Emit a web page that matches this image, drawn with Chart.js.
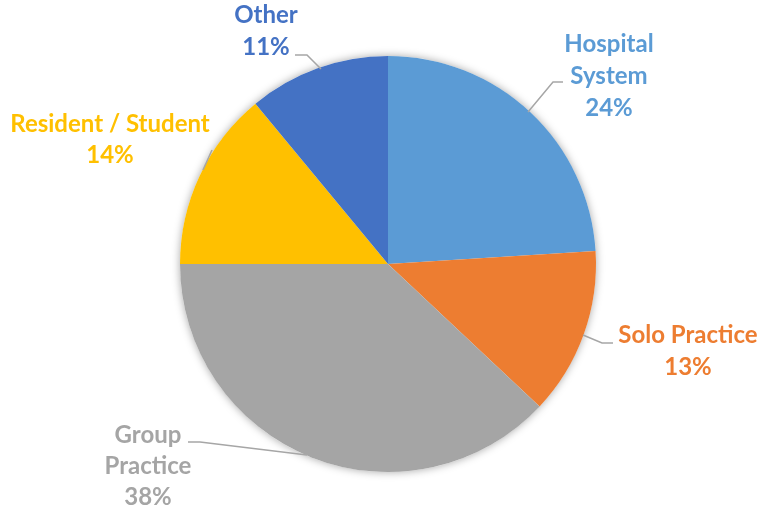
<!DOCTYPE html>
<html>
<head>
<meta charset="utf-8">
<script src="https://cdn.jsdelivr.net/npm/chart.js@4"></script>
<style>
  html, body { margin: 0; padding: 0; background: #fff; }
  #wrap { width: 761px; height: 512px; }
</style>
</head>
<body>
<div id="wrap"><canvas id="practicePie" width="761" height="512"></canvas></div>
<script>
// practice setting breakdown, clockwise from 12 o'clock
var categories = ['Hospital System', 'Solo Practice', 'Group Practice', 'Resident / Student', 'Other'];
var shares = [24, 13, 38, 14, 11];
var sliceColors = ['#5B9BD5', '#ED7D31', '#A5A5A5', '#FFC000', '#4472C4'];

// label lines as they wrap in the picture
var labelLines = [
    ['Hospital', 'System'],
    ['Solo Practice'],
    ['Group', 'Practice'],
    ['Resident / Student'],
    ['Other']
];

// where each label sits (x offset, first baseline offset) and its leader line,
// all relative to the pie centre
var labelSpots = [
    { dx: 221, dy: -212, step: 32, leader: [[175, -182], [165, -182], [140, -152]] },
    { dx: 300, dy: 79, step: 32, leader: [[225, 79], [214, 79], [195, 71]] },
    { dx: -240, dy: 179, step: 31, leader: [[-200, 178], [-188, 178], [-81, 191]] },
    { dx: -278, dy: -132, step: 31, leader: [[-176, -114], [-185, -94]] },
    { dx: -122, dy: -241, step: 32, leader: [[-93, -209], [-81, -209], [-67, -195]] }
];

var pieShadow = {
    id: 'pieShadow',
    beforeDatasetsDraw(chart) {
        var arc = chart.getDatasetMeta(0).data[0];
        if (!arc) return;
        var ctx = chart.ctx;
        ctx.save();
        ctx.shadowColor = 'rgba(0,0,0,0.35)';
        ctx.shadowBlur = 9;
        ctx.fillStyle = '#fff';
        ctx.beginPath();
        ctx.arc(arc.x, arc.y, arc.outerRadius, 0, Math.PI * 2);
        ctx.fill();
        ctx.restore();
    }
};

var sliceLabels = {
    id: 'sliceLabels',
    afterDatasetsDraw(chart) {
        var ctx = chart.ctx;
        var meta = chart.getDatasetMeta(0);
        ctx.save();
        meta.data.forEach((arc, i) => {
            var spot = labelSpots[i];
            var cx = arc.x, cy = arc.y;

            ctx.strokeStyle = '#A6A6A6';
            ctx.lineWidth = 1.5;
            ctx.beginPath();
            spot.leader.forEach((p, k) => {
                if (k === 0) ctx.moveTo(cx + p[0], cy + p[1]);
                else ctx.lineTo(cx + p[0], cy + p[1]);
            });
            ctx.stroke();

            var lines = labelLines[i].concat([shares[i] + '%']);
            ctx.fillStyle = sliceColors[i];
            ctx.font = 'bold 24px Lato';
            ctx.textAlign = 'center';
            ctx.textBaseline = 'alphabetic';
            lines.forEach((txt, k) => {
                ctx.fillText(txt, cx + spot.dx, cy + spot.dy + k * spot.step);
            });
        });
        ctx.restore();
    }
};

var practicePie = new Chart('practicePie', { //eslint-disable-line
    type: 'pie',
    data: {
        labels: categories,
        datasets: [{
            data: shares,
            backgroundColor: sliceColors,
            borderWidth: 0
        }]
    },
    options: {
        responsive: false,
        animation: false,
        layout: {
            padding: { top: 56, bottom: 40, left: 180, right: 165 }
        },
        plugins: {
            legend: { display: false },
            tooltip: { enabled: false }
        }
    },
    plugins: [pieShadow, sliceLabels]
});
</script>
</body>
</html>
